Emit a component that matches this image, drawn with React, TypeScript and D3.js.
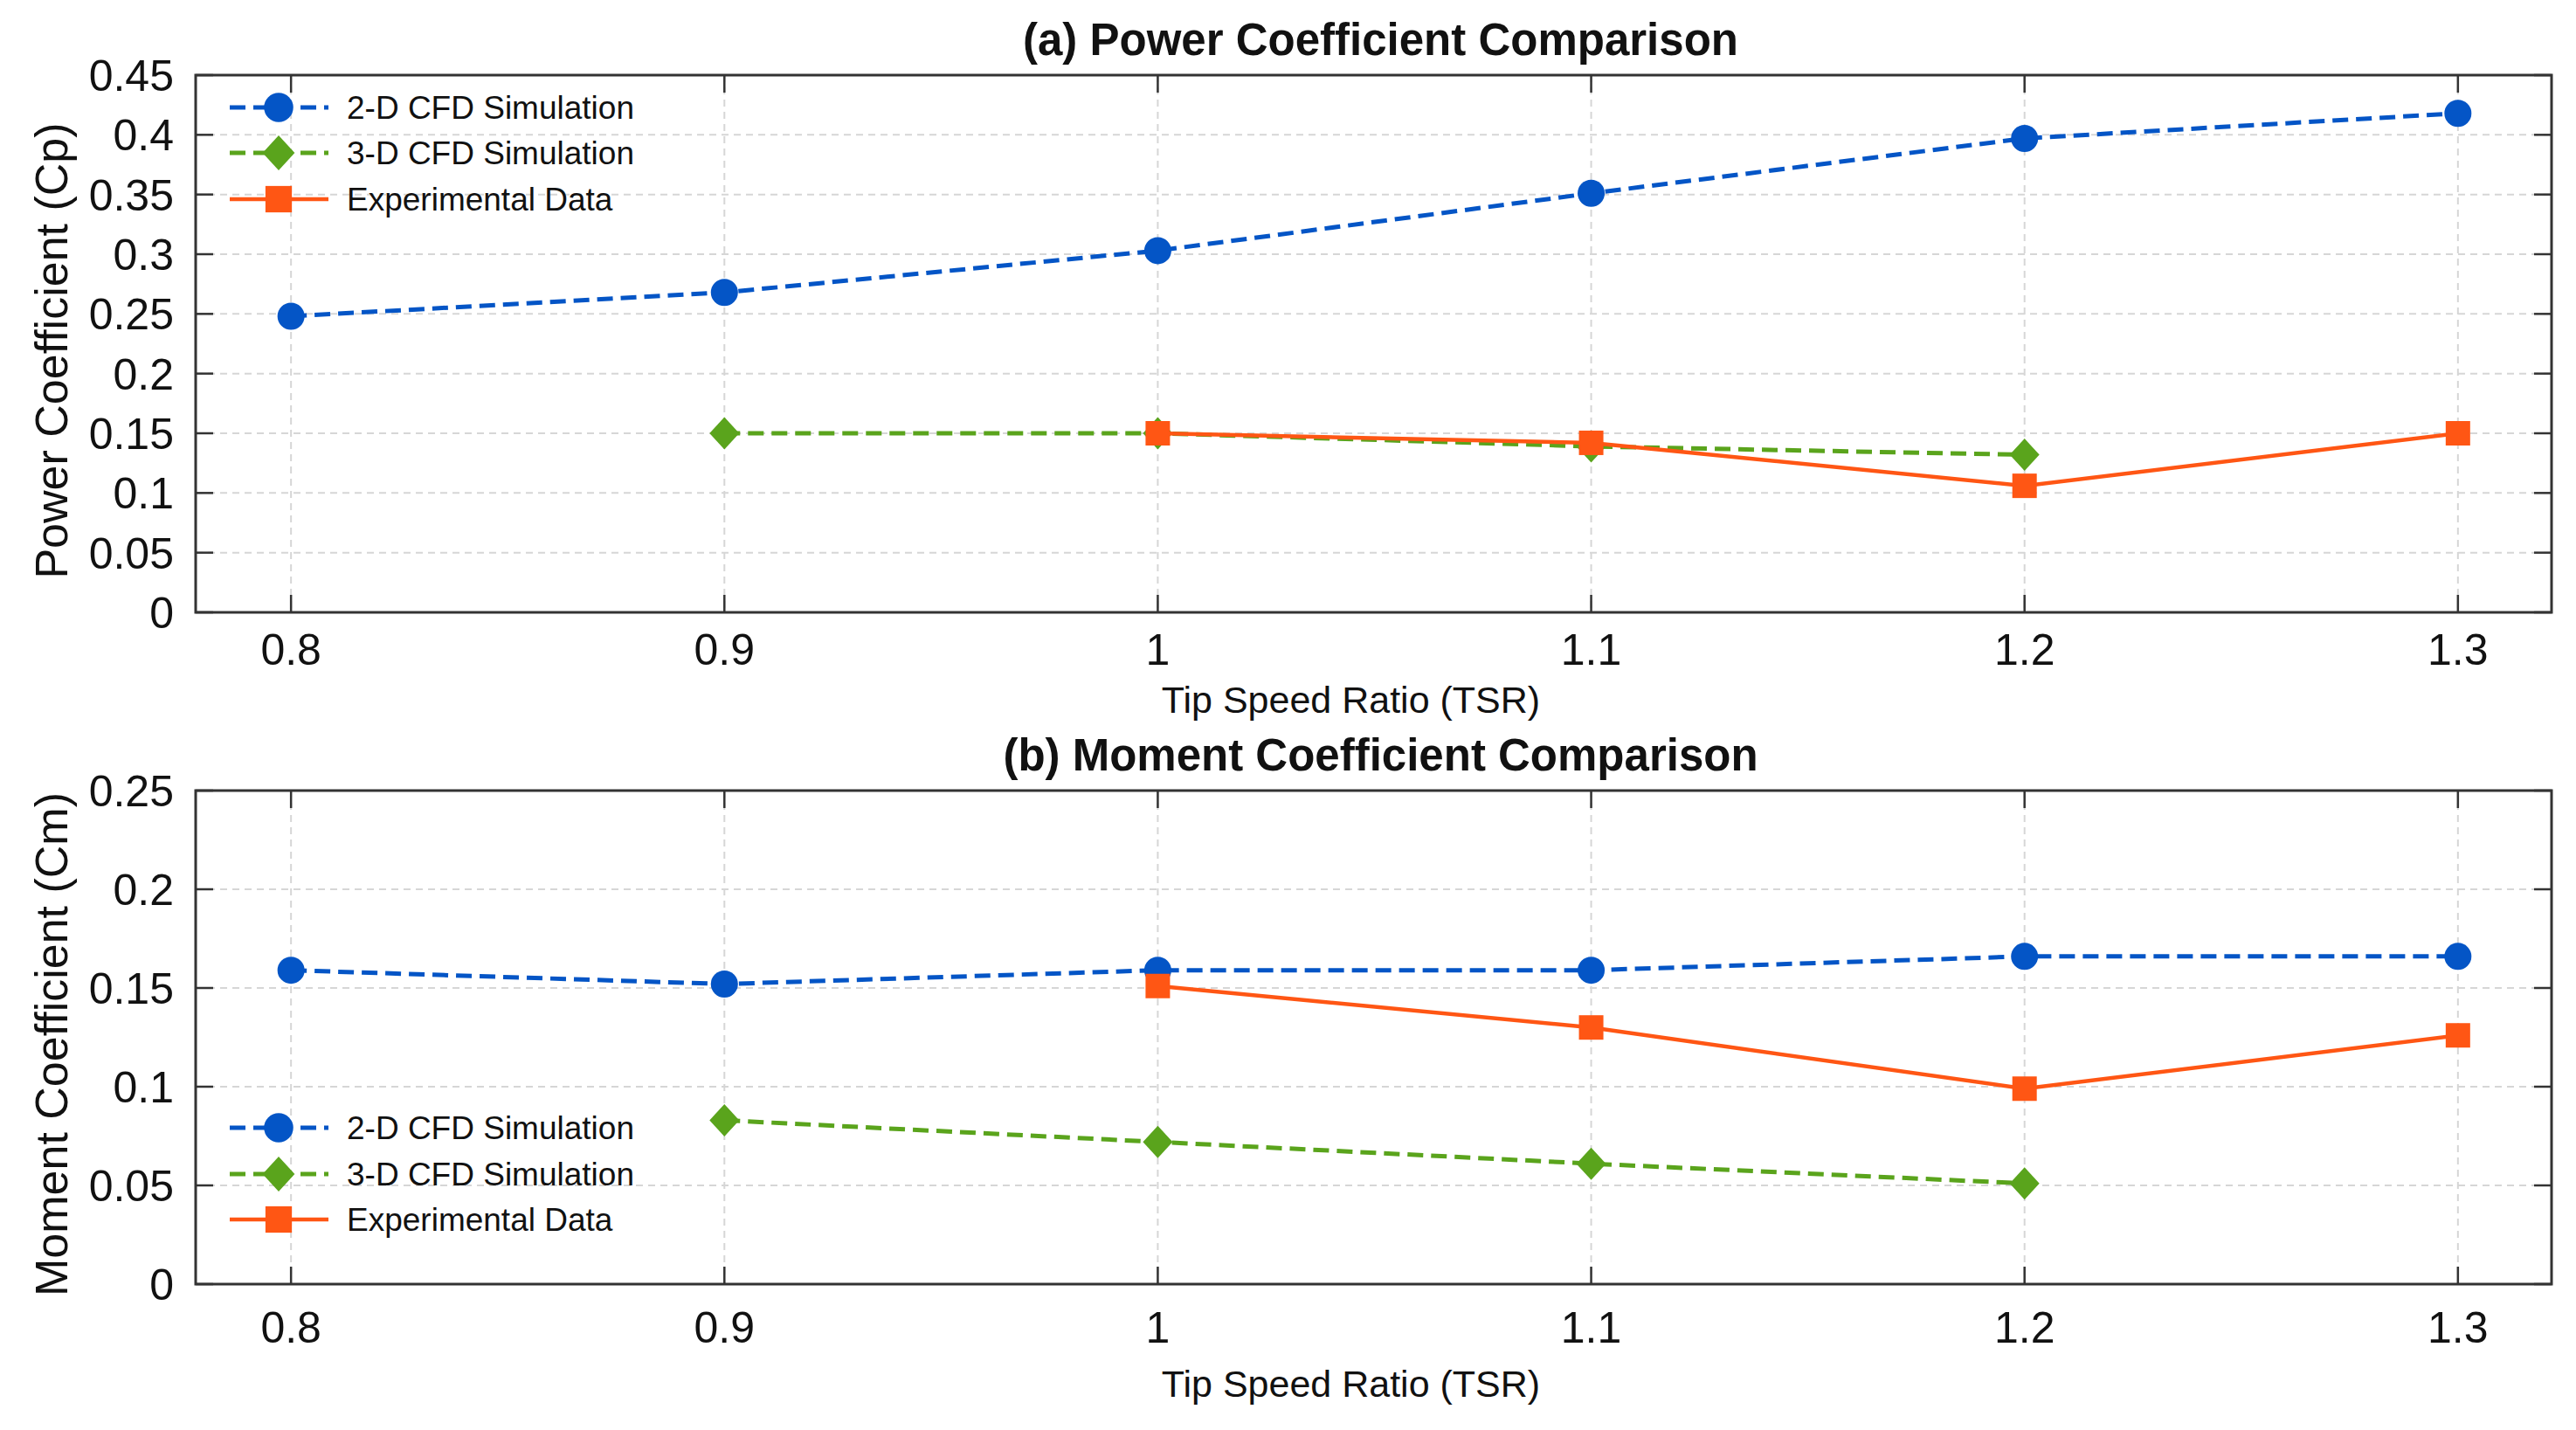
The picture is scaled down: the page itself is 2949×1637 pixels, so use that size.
import React from "react";
import * as d3 from "d3";

// Tip speed ratio (shared x values) and tick labels
const tsr = [0.8, 0.9, 1.0, 1.1, 1.2, 1.3];
const tsrLabels = ["0.8", "0.9", "1", "1.1", "1.2", "1.3"];

// (a) Power coefficient
const cp2D = [0.248, 0.268, 0.303, 0.351, 0.397, 0.418];
const cp3D = [null, 0.15, 0.15, 0.139, 0.132, null];
const cpExp = [null, null, 0.15, 0.142, 0.106, 0.15];
const cpTicks = [0, 0.05, 0.1, 0.15, 0.2, 0.25, 0.3, 0.35, 0.4, 0.45];

// (b) Moment coefficient
const cm2D = [0.159, 0.152, 0.159, 0.159, 0.166, 0.166];
const cm3D = [null, 0.083, 0.072, 0.061, 0.051, null];
const cmExp = [null, null, 0.151, 0.13, 0.099, 0.126];
const cmTicks = [0, 0.05, 0.1, 0.15, 0.2, 0.25];

const seriesNames = ["2-D CFD Simulation", "3-D CFD Simulation", "Experimental Data"];

type Shape = "circle" | "diamond" | "square";
interface SeriesStyle {
  color: string;
  dash: string | null;
  width: number;
  shape: Shape;
}

const styles: SeriesStyle[] = [
  { color: "#0455c6", dash: "18 9", width: 5, shape: "circle" },
  { color: "#5aa41c", dash: "18 9", width: 5, shape: "diamond" },
  { color: "#ff5614", dash: null, width: 4.5, shape: "square" },
];

const W = 2949;
const H = 1637;
const LEFT = 224;
const RIGHT = 2921;
const FONT = "'Liberation Sans', Arial, Helvetica, sans-serif";
const TICK = 20;

const x = d3.scaleLinear().domain([0.778, 1.3216]).range([LEFT, RIGHT]);

const Marker: React.FC<{ shape: Shape; cx: number; cy: number; color: string; k?: number }> = ({ shape, cx, cy, color, k = 1 }) => {
  if (shape === "circle") return <circle cx={cx} cy={cy} r={15.5 * k} fill={color} />;
  if (shape === "diamond")
    return (
      <path
        d={`M${cx},${cy - 18.5 * k}L${cx + 17 * k},${cy}L${cx},${cy + 18.5 * k}L${cx - 17 * k},${cy}Z`}
        fill={color}
      />
    );
  return <rect x={cx - 14 * k} y={cy - 14 * k} width={28 * k} height={28 * k} fill={color} />;
};

interface PanelProps {
  title: string;
  yLabel: string;
  yTicks: number[];
  series: (number | null)[][];
  top: number;
  bottom: number;
  titleBase: number;
  tickBase: number;
  xLabelBase: number;
  legendRows: number[];
}

const Panel: React.FC<PanelProps> = ({ title, yLabel, yTicks, series, top, bottom, titleBase, tickBase, xLabelBase, legendRows }) => {
  const y = d3.scaleLinear().domain([0, d3.max(yTicks)!]).range([bottom, top]);
  const cx = (LEFT + RIGHT) / 2;

  const line = d3
    .line<number | null>()
    .defined((d) => d !== null)
    .x((_, i) => x(tsr[i]))
    .y((d) => y(d as number));

  return (
    <g>
      {/* grid */}
      {tsr.map((t) => (
        <line key={"gx" + t} x1={x(t)} x2={x(t)} y1={top} y2={bottom} stroke="#d6d6d6" strokeWidth={2} strokeDasharray="8 6" />
      ))}
      {yTicks.slice(1, -1).map((t) => (
        <line key={"gy" + t} x1={LEFT} x2={RIGHT} y1={y(t)} y2={y(t)} stroke="#d6d6d6" strokeWidth={2} strokeDasharray="8 6" />
      ))}

      {/* ticks, inward on all four sides */}
      {tsr.map((t) => (
        <g key={"tx" + t} stroke="#333" strokeWidth={2.5}>
          <line x1={x(t)} x2={x(t)} y1={bottom} y2={bottom - TICK} />
          <line x1={x(t)} x2={x(t)} y1={top} y2={top + TICK} />
        </g>
      ))}
      {yTicks.map((t) => (
        <g key={"ty" + t} stroke="#333" strokeWidth={2.5}>
          <line x1={LEFT} x2={LEFT + TICK} y1={y(t)} y2={y(t)} />
          <line x1={RIGHT} x2={RIGHT - TICK} y1={y(t)} y2={y(t)} />
        </g>
      ))}

      {/* series */}
      {series.map((vals, s) => (
        <g key={"s" + s}>
          <path
            d={line(vals) ?? ""}
            fill="none"
            stroke={styles[s].color}
            strokeWidth={styles[s].width}
            strokeDasharray={styles[s].dash ?? undefined}
          />
          {vals.map((v, i) =>
            v === null ? null : <Marker key={i} shape={styles[s].shape} cx={x(tsr[i])} cy={y(v)} color={styles[s].color} />
          )}
        </g>
      ))}

      {/* axes box */}
      <rect x={LEFT} y={top} width={RIGHT - LEFT} height={bottom - top} fill="none" stroke="#333" strokeWidth={3} />

      {/* tick labels */}
      {tsr.map((t, i) => (
        <text key={"lx" + t} x={x(t)} y={tickBase} textAnchor="middle" fontSize={50} fontFamily={FONT} fill="#111">
          {tsrLabels[i]}
        </text>
      ))}
      {yTicks.map((t) => (
        <text key={"ly" + t} x={LEFT - 25} y={y(t)} dy="0.36em" textAnchor="end" fontSize={50} fontFamily={FONT} fill="#111">
          {String(t)}
        </text>
      ))}

      {/* labels */}
      <text x={cx - 26} y={xLabelBase} textAnchor="middle" fontSize={43} fontFamily={FONT} fill="#111">
        Tip Speed Ratio (TSR)
      </text>
      <text
        transform={`translate(77, ${(top + bottom) / 2 + 8}) rotate(-90)`}
        textAnchor="middle"
        fontSize={52}
        fontFamily={FONT}
        fill="#111"
      >
        {yLabel}
      </text>
      <text x={cx + 8} y={titleBase} textAnchor="middle" fontSize={51} fontWeight="bold" fontFamily={FONT} fill="#111">
        {title}
      </text>

      {/* legend */}
      {seriesNames.map((name, s) => (
        <g key={"lg" + s}>
          <line
            x1={263}
            x2={376}
            y1={legendRows[s]}
            y2={legendRows[s]}
            stroke={styles[s].color}
            strokeWidth={styles[s].width}
            strokeDasharray={styles[s].dash ?? undefined}
          />
          <Marker shape={styles[s].shape} cx={319} cy={legendRows[s]} color={styles[s].color} k={1.08} />
          <text x={397} y={legendRows[s]} dy="0.36em" fontSize={37} fontFamily={FONT} fill="#111">
            {name}
          </text>
        </g>
      ))}
    </g>
  );
};

export default function App() {
  return (
    <svg width={W} height={H} style={{ position: "absolute", left: 0, top: 0, background: "#fff" }}>
      <rect width={W} height={H} fill="#fff" />
      <Panel
        title="(a) Power Coefficient Comparison"
        yLabel="Power Coefficient (Cp)"
        yTicks={cpTicks}
        series={[cp2D, cp3D, cpExp]}
        top={86}
        bottom={701}
        titleBase={63}
        tickBase={761}
        xLabelBase={816}
        legendRows={[123, 175, 228]}
      />
      <Panel
        title="(b) Moment Coefficient Comparison"
        yLabel="Moment Coefficient (Cm)"
        yTicks={cmTicks}
        series={[cm2D, cm3D, cmExp]}
        top={905}
        bottom={1470}
        titleBase={882}
        tickBase={1537}
        xLabelBase={1599}
        legendRows={[1291, 1344, 1396]}
      />
    </svg>
  );
}
